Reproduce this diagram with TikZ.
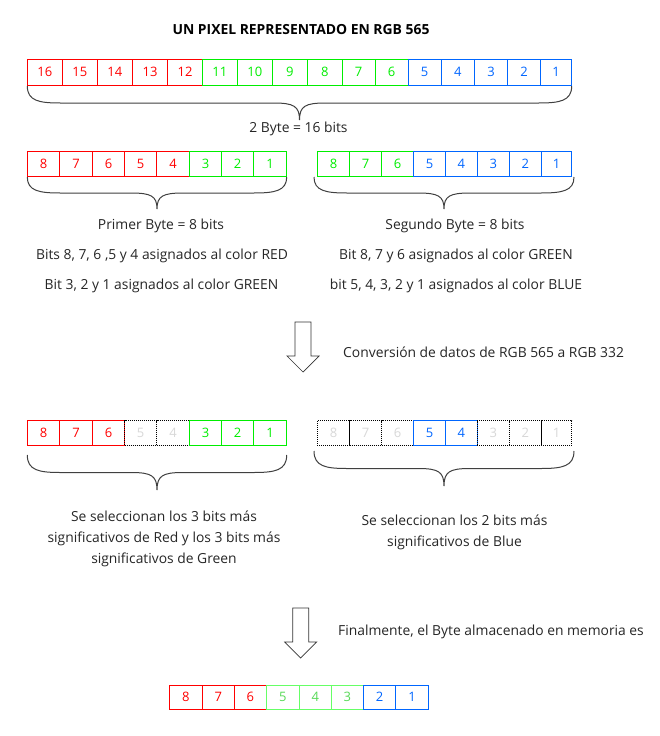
\documentclass[tikz,border=0pt]{standalone}
\usepackage{fontspec}
\setmainfont{Open Sans}
\definecolor{cred}{HTML}{FF0000}
\definecolor{cgreen}{HTML}{00EE00}
\definecolor{cblue}{HTML}{0066FF}
\definecolor{clight}{HTML}{66FF66}
\definecolor{cgray}{HTML}{D8D8D8}
\newcommand\mybrace[4]{%
 \pgfmathsetmacro\bxm{(#1+#2)/2}%
 \pgfmathsetmacro\byl{(#3+#4)/2}%
 \draw[bracestyle] (#1,#3) .. controls (#1,{\byl-2}) and ({#1+12},\byl) .. ({#1+33},\byl) -- ({\bxm-26},\byl) .. controls ({\bxm-6},\byl) and (\bxm,{\byl+3}) .. (\bxm,#4) .. controls (\bxm,{\byl+3}) and ({\bxm+6},\byl) .. ({\bxm+26},\byl) -- ({#2-33},\byl) .. controls ({#2-12},\byl) and (#2,{\byl-2}) .. (#2,#3);}
\begin{document}
\begin{tikzpicture}[x=1pt,y=-1pt,
  font=\fontsize{13.85}{15}\selectfont,
  cell/.style={draw, rectangle, inner sep=0pt, line width=1pt, font=\fontsize{13}{15}\selectfont},
  cR/.style={draw=cred, text=cred},
  cG/.style={draw=cgreen, text=cgreen},
  cB/.style={draw=cblue, text=cblue},
  cL/.style={draw=clight, text=clight!85!black},
  cD/.style={draw=black, dash pattern=on 1pt off 1pt, text=cgray},
  bracestyle/.style={draw=black!75, line width=1pt},
  blockarrow/.style={draw=black!80, line width=0.7pt, fill=white},
  lbl/.style={inner sep=0pt, text=black!85},
  mlbl/.style={inner sep=0pt, text=black!85, align=center, font=\fontsize{13.85}{21}\selectfont}]
\useasboundingbox (0,0) rectangle (659,736);
\fill[white] (0,0) rectangle (659,736);

\node[lbl, font=\fontsize{13.9}{15}\selectfont\bfseries, text=black] (title) at (301,30) {UN PIXEL REPRESENTADO EN RGB 565};

% Row A
\foreach \a/\b/\t/\s [count=\i] in {27.3/62.3/16/cR, 62.3/97.3/15/cR, 97.3/132.5/14/cR, 132.5/167.7/13/cR, 167.7/202.3/12/cR, 202.3/237.3/11/cG, 237.3/272.3/10/cG, 272.3/307.3/9/cG, 307.3/342.3/8/cG, 342.3/375/7/cG, 375/408/6/cG, 408/441/5/cB, 441/474.5/4/cB, 474.5/507.7/3/cB, 507.7/540.7/2/cB, 540.7/571.7/1/cB}{
  \pgfmathsetmacro\w{\b-\a}
  \node[cell, \s, minimum width=\w pt, minimum height=26pt] (A\i) at ({(\a+\b)/2},72) {\t};
}
\mybrace{27.3}{571.7}{86}{120}
\node[lbl] (twobyte) at (298.5,129) {2 Byte = 16 bits};

% Row B left
\foreach \a/\b/\t/\s [count=\i] in {27.3/59.7/8/cR, 59.7/92.3/7/cR, 92.3/124.7/6/cR, 124.7/156.7/5/cR, 156.7/189.7/4/cR, 189.7/221.7/3/cG, 221.7/253.7/2/cG, 253.7/286.7/1/cG}{
  \pgfmathsetmacro\w{\b-\a}
  \node[cell, \s, minimum width=\w pt, minimum height=24.5pt] (BL\i) at ({(\a+\b)/2},163.8) {\t};
}
% Row B right
\foreach \a/\b/\t/\s [count=\i] in {317.3/349.7/8/cG, 349.7/381.7/7/cG, 381.7/413.7/6/cG, 413.7/445.3/5/cB, 445.3/477.3/4/cB, 477.3/509.3/3/cB, 509.3/541.3/2/cB, 541.3/571.7/1/cB}{
  \pgfmathsetmacro\w{\b-\a}
  \node[cell, \s, minimum width=\w pt, minimum height=24.5pt] (BR\i) at ({(\a+\b)/2},163.8) {\t};
}
\mybrace{27.3}{286.7}{177}{209}
\mybrace{314}{574}{177}{209}

\node[lbl] (primer) at (161,226) {Primer Byte = 8 bits};
\node[lbl] (bitsred) at (162,256) {Bits 8, 7, 6 ,5 y 4 asignados al color RED};
\node[lbl] (bitsgreen) at (161.5,286) {Bit 3, 2 y 1 asignados al color GREEN};
\node[lbl] (segundo) at (455,226) {Segundo Byte = 8 bits};
\node[lbl] (bitsgreen2) at (456,256) {Bit 8, 7 y 6 asignados al color GREEN};
\node[lbl] (bitsblue) at (456,286) {bit 5, 4, 3, 2 y 1 asignados al color BLUE};

% arrow 1
\draw[blockarrow] (295,322) -- (311,322) -- (311,356) -- (319,356) -- (303,372) -- (287,356) -- (295,356) -- cycle;
\node[lbl, anchor=west] (conv) at (343,352) {Conversión de datos de RGB 565 a RGB 332};

% Row C left
\foreach \a/\b/\t/\s [count=\i] in {27.3/59.7/8/cR, 59.7/92.3/7/cR, 92.3/124.7/6/cR, 124.7/156.7/5/cD, 156.7/189.7/4/cD, 189.7/221.7/3/cG, 221.7/253.7/2/cG, 253.7/286.7/1/cG}{
  \pgfmathsetmacro\w{\b-\a}
  \node[cell, \s, minimum width=\w pt, minimum height=24.5pt] (CL\i) at ({(\a+\b)/2},433) {\t};
}
% Row C right
\foreach \a/\b/\t/\s [count=\i] in {317.3/349.7/8/cD, 349.7/381.7/7/cD, 381.7/413.7/6/cD, 413.7/445.3/5/cB, 445.3/477.3/4/cB, 477.3/509.3/3/cD, 509.3/541.3/2/cD, 541.3/571.7/1/cD}{
  \pgfmathsetmacro\w{\b-\a}
  \node[cell, \s, minimum width=\w pt, minimum height=24.5pt] (CR\i) at ({(\a+\b)/2},433) {\t};
}
\mybrace{27.3}{286.7}{455}{490}
\mybrace{314}{574}{451}{486}

\node[mlbl] (selred) at (164,539) {Se seleccionan los 3 bits más\\significativos de Red y los 3 bits más\\significativos de Green};
\node[mlbl] (selblue) at (454.5,532.5) {Se seleccionan los 2 bits más\\significativos de Blue};

% arrow 2
\draw[blockarrow] (292.7,608) -- (308.7,608) -- (308.7,642) -- (316.7,642) -- (300.7,658) -- (284.7,642) -- (292.7,642) -- cycle;
\node[lbl, anchor=west] (final) at (338,632) {Finalmente, el Byte almacenado en memoria es};

% Row D
\foreach \a/\b/\t/\s [count=\i] in {169.3/202.3/8/cR, 202.3/234.3/7/cR, 234.3/266.3/6/cR, 266.3/299.3/5/cL, 299.3/331.3/4/cL, 331.3/363.3/3/cL, 363.3/395.7/2/cB, 395.7/428.3/1/cB}{
  \pgfmathsetmacro\w{\b-\a}
  \node[cell, \s, minimum width=\w pt, minimum height=24pt] (D\i) at ({(\a+\b)/2},697) {\t};
}
\end{tikzpicture}
\end{document}
